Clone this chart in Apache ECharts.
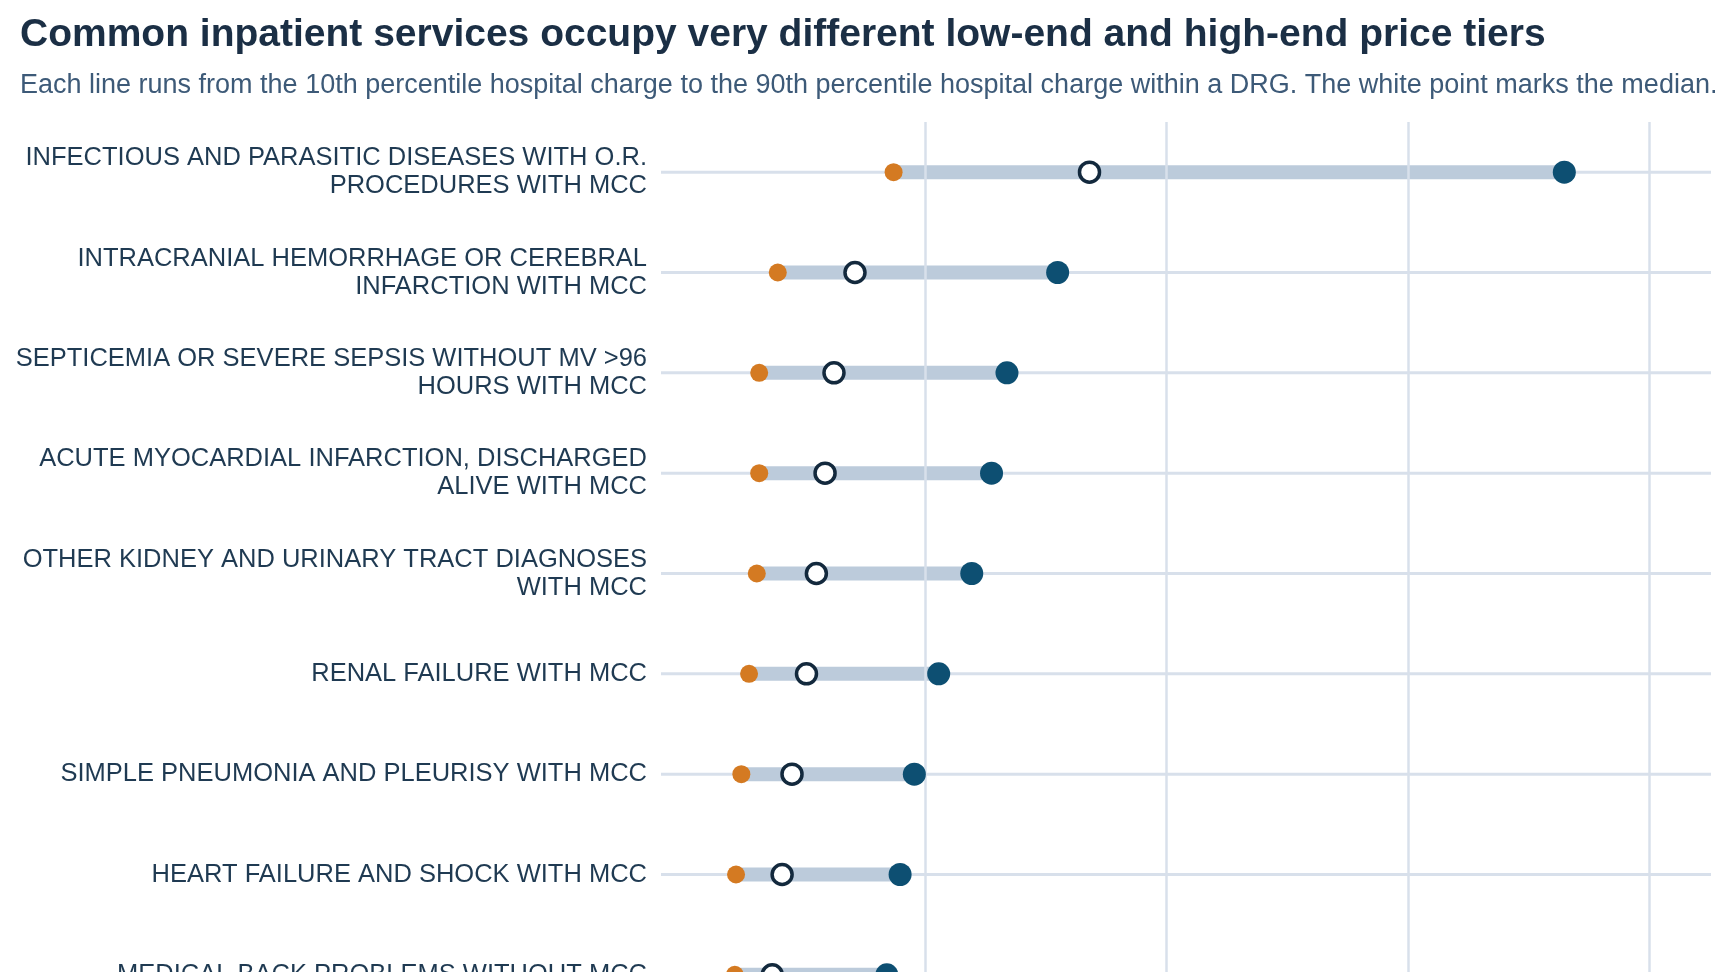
<!DOCTYPE html>
<html><head><meta charset="utf-8">
<script src="https://cdn.jsdelivr.net/npm/echarts@6/dist/echarts.min.js"></script>
<style>html,body{margin:0;padding:0;overflow:hidden;background:#fff}#c{width:1728px;height:1100px}</style>
</head><body><div id="c"></div>
<script>
const categories = [
  "INFECTIOUS AND PARASITIC DISEASES WITH O.R.\nPROCEDURES WITH MCC",
  "INTRACRANIAL HEMORRHAGE OR CEREBRAL\nINFARCTION WITH MCC",
  "SEPTICEMIA OR SEVERE SEPSIS WITHOUT MV >96\nHOURS WITH MCC",
  "ACUTE MYOCARDIAL INFARCTION, DISCHARGED\nALIVE WITH MCC",
  "OTHER KIDNEY AND URINARY TRACT DIAGNOSES\nWITH MCC",
  "RENAL FAILURE WITH MCC",
  "SIMPLE PNEUMONIA AND PLEURISY WITH MCC",
  "HEART FAILURE AND SHOCK WITH MCC",
  "MEDICAL BACK PROBLEMS WITHOUT MCC"
];
const p10 = [86800, 38800, 31100, 31100, 30100, 26900, 23700, 21500, 21000];
const median = [168000, 70800, 62100, 58400, 54800, 50700, 44700, 40600, 36500];
const p90 = [364800, 154800, 133800, 127400, 119200, 105500, 95400, 89500, 84000];
const ratioLabels = ["4.2x","4.0x","4.3x","4.1x","3.9x","3.9x","4.0x","4.2x","4.0x"];
const xTicks = [100000, 200000, 300000, 400000];
const xMin = -9600, xMax = 425600;

const chart = echarts.init(document.getElementById('c'));
const F = "Liberation Sans, Arial, sans-serif";
chart.setOption({
  animation: false,
  title: [
    {text: "Common inpatient services occupy very different low-end and high-end price tiers", left: 15, top: 11,
     textStyle: {fontFamily: F, fontSize: 39, fontWeight: 'bold', color: '#1b2f45'}},
    {text: "Each line runs from the 10th percentile hospital charge to the 90th percentile hospital charge within a DRG. The white point marks the median.", left: 15, top: 67,
     textStyle: {fontFamily: F, fontSize: 27, fontWeight: 'normal', color: '#3d5a78'}}
  ],
  grid: {left: 661, right: 17, top: 122, bottom: 75},
  xAxis: {type: 'value', min: xMin, max: xMax, splitLine: {show: false}, axisLine: {show: false}, axisTick: {show: false}, axisLabel: {show: false}},
  yAxis: {type: 'category', data: categories, inverse: true, axisLine: {show: false}, axisTick: {show: false}, splitLine: {show: false},
    axisLabel: {fontFamily: F, fontSize: 25.5, color: '#1f3a52', margin: 14, align: 'right', lineHeight: 28}},
  series: [
    {type: 'custom', z: 1,
     data: categories.map((c, i) => [i, p10[i], p90[i]]),
     renderItem: function (params, api) {
       const i = api.value(0);
       const a = api.coord([xMin, i]), b = api.coord([xMax, i]);
       const s = api.coord([api.value(1), i]), e = api.coord([api.value(2), i]);
       return {type: 'group', children: [
         {type: 'line', shape: {x1: a[0], y1: a[1], x2: b[0], y2: b[1]}, style: {stroke: '#d8e0eb', lineWidth: 3}},
         {type: 'line', shape: {x1: s[0], y1: s[1], x2: e[0], y2: e[1]}, style: {stroke: '#bccbdb', lineWidth: 14}}
       ]};
     },
     markLine: {silent: true, symbol: 'none', label: {show: false}, lineStyle: {color: '#d8e0eb', width: 2.5, type: 'solid'},
       data: xTicks.map(v => ({xAxis: v}))}
    },
    {type: 'scatter', z: 2, symbolSize: 1, itemStyle: {opacity: 0},
     data: p90.map((v, i) => [v, i]),
     label: {show: true, position: 'right', distance: -6, offset: [0, 2], fontFamily: F, fontSize: 21, color: '#1f3a52',
       formatter: p => ratioLabels[p.dataIndex]}},
    {type: 'scatter', z: 3, symbolSize: 18, itemStyle: {color: '#d47a22', opacity: 1},
     data: p10.map((v, i) => [v, i])},
    {type: 'scatter', z: 4, symbolSize: 20, itemStyle: {color: '#ffffff', borderColor: '#13293d', borderWidth: 3.5, opacity: 1},
     data: median.map((v, i) => [v, i])},
    {type: 'scatter', z: 5, symbolSize: 23, itemStyle: {color: '#0d4f72', opacity: 1},
     data: p90.map((v, i) => [v, i])}
  ]
});
</script></body></html>
